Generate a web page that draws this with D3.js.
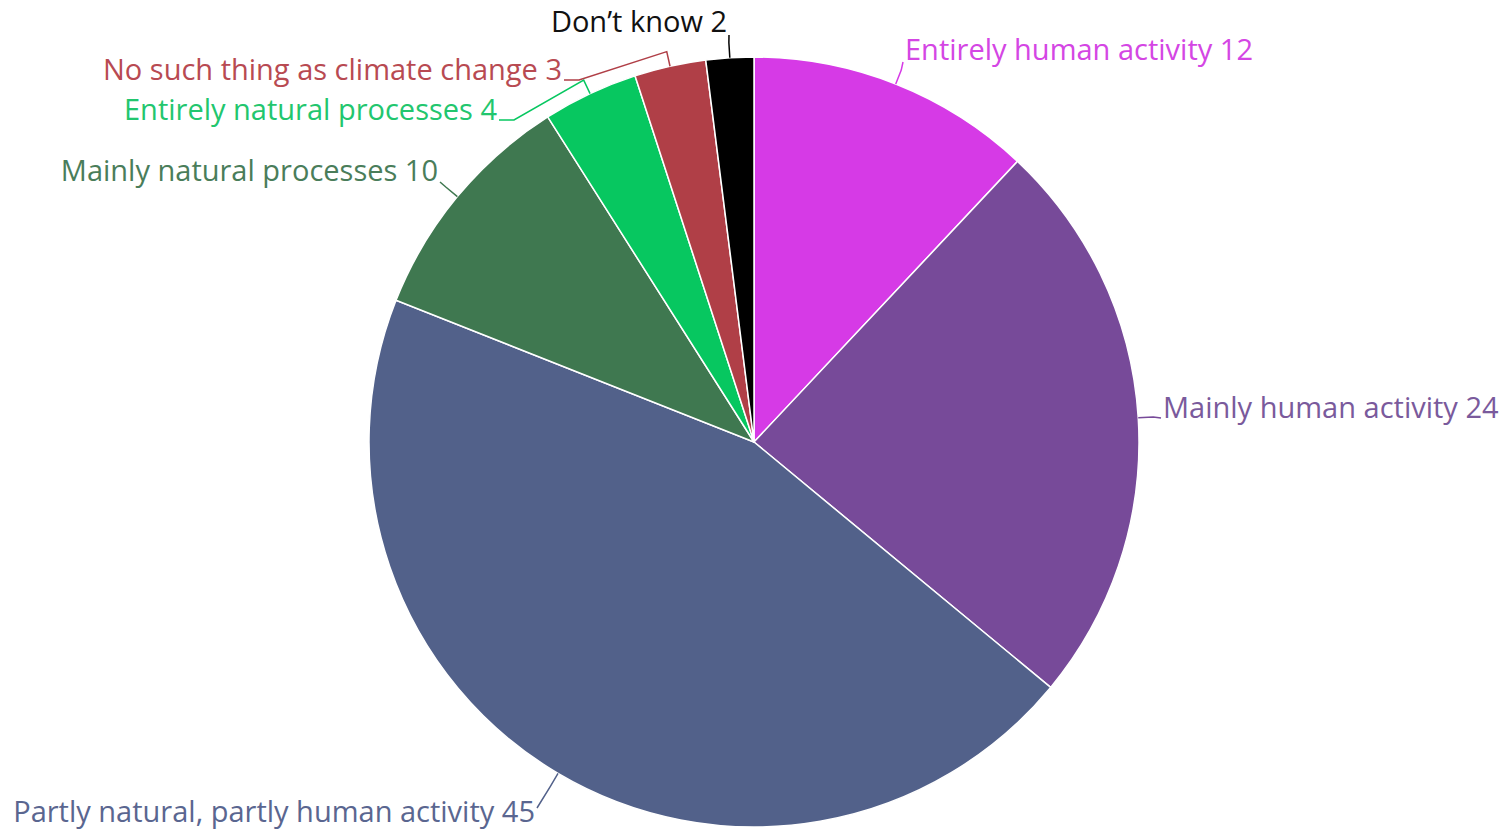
<html>
    <head>
        <meta charset="utf-8">
        <title>Climate change causes</title>
        <style type="text/css">
            body { margin: 0; background: #fff; }
            text { font-family: "Open Sans", sans-serif; }
        </style>
        <script src="https://cdn.jsdelivr.net/npm/d3@7"></script>
    </head>
    <body>
        <svg width="1508" height="830"></svg>
        <script>
        // data, clockwise from 12 o'clock
        var categories = ["Entirely human activity", "Mainly human activity", "Partly natural, partly human activity",
                          "Mainly natural processes", "Entirely natural processes", "No such thing as climate change", "Don’t know"];
        var values = [12, 24, 45, 10, 4, 3, 2];
        var colors = ["#d63ae6", "#774a99", "#52618a", "#3f7850", "#07c760", "#b03f47", "#000000"];
        var labelColors = ["#d446e4", "#7a5a9c", "#5a6690", "#4a7d5a", "#22c66e", "#b84a52", "#111111"];

        // where each label sits (baseline), which way it reads, and where its connector hooks on
        var labelLayout = [
            {x: 905, y: 60, anchor: "start", hook: 2},
            {x: 1163, y: 418, anchor: "start", hook: 0},
            {x: 535, y: 822, anchor: "end", hook: -14},
            {x: 438, y: 181, anchor: "end", hook: 1},
            {x: 497, y: 120, anchor: "end", hook: 0},
            {x: 562, y: 80, anchor: "end", hook: 0},
            {x: 727, y: 32, anchor: "end", hook: 3}
        ];

        var svg = d3.select("svg"),
            cx = 754, cy = 442, radius = 385;

        var data = categories.map((c, i) => ({name: c, value: values[i], color: colors[i], text: labelColors[i], label: labelLayout[i]}));

        var pie = d3.pie().sort(null).value(d => d.value);
        var arc = d3.arc().innerRadius(0).outerRadius(radius);
        var arcs = pie(data);

        var g = svg.append("g").attr("transform", `translate(${cx},${cy})`);

        g.selectAll("path.slice")
            .data(arcs)
            .enter()
            .append("path")
            .attr("class", "slice")
            .attr("d", arc)
            .attr("fill", d => d.data.color)
            .attr("stroke", "#fff")
            .attr("stroke-width", 1.5)
            .attr("stroke-linejoin", "round");

        function polar(a, r) {
            return [r * Math.sin(a), -r * Math.cos(a)];
        }

        // connectors: label -> (optional step) -> break point -> slice edge
        g.selectAll("path.connector")
            .data(arcs)
            .enter()
            .append("path")
            .attr("class", "connector")
            .attr("fill", "none")
            .attr("stroke", d => d.data.color)
            .attr("stroke-width", 1.5)
            .attr("d", d => {
                var mid = (d.startAngle + d.endAngle) / 2;
                var edge = polar(mid, radius);
                var brk = polar(mid, radius + 15);
                var l = d.data.label;
                var sx = l.x - cx + (l.anchor == "end" ? 2 : -2);
                var sy = l.y - cy + l.hook;
                var pts = [[sx, sy]];
                if (Math.abs(brk[0] - sx) > 30) pts.push([sx + (brk[0] > sx ? 15 : -15), sy]);
                pts.push(brk, edge);
                return d3.line()(pts);
            });

        svg.selectAll("text.label")
            .data(data)
            .enter()
            .append("text")
            .attr("class", "label")
            .attr("x", d => d.label.x)
            .attr("y", d => d.label.y)
            .attr("text-anchor", d => d.label.anchor)
            .attr("fill", d => d.text)
            .style("font-size", "29px")
            .text(d => d.name + " " + d.value);
        </script>
    </body>
</html>
